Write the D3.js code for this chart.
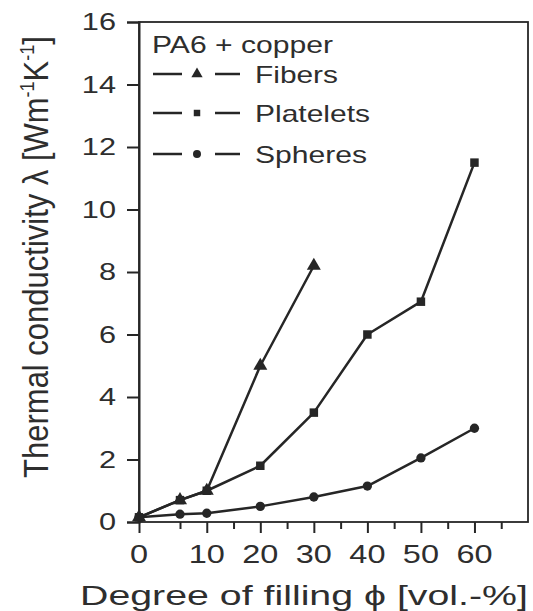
<!DOCTYPE html>
<html>
<head>
<meta charset="utf-8">
<script src="https://cdn.jsdelivr.net/npm/d3@7"></script>
<style>
  html, body { margin: 0; padding: 0; background: #fff; }
  svg { display: block; }
  text { font-family: "Liberation Sans", Arial, "DejaVu Sans", sans-serif; fill: #2e2e2e; }
</style>
</head>
<body>
<svg id="chart" width="533" height="611"></svg>
<script>
// ---- data ----
const fiberFilling    = [0, 5, 10, 20, 30];
const fiberValues     = [0.15, 0.7, 1.0, 5.0, 8.2];
const plateletFilling = [0, 5, 10, 20, 30, 40, 50, 60];
const plateletValues  = [0.15, 0.7, 1.0, 1.8, 3.5, 6.0, 7.05, 11.5];
const sphereFilling   = [0, 5, 10, 20, 30, 40, 50, 60];
const sphereValues    = [0.15, 0.25, 0.28, 0.5, 0.8, 1.15, 2.05, 3.0];
const seriesNames     = ["Fibers", "Platelets", "Spheres"];
const legendTitle     = "PA6 + copper";
const yTickValues     = [0, 2, 4, 6, 8, 10, 12, 14, 16];
const xTickValues     = [0, 10, 20, 30, 40, 50, 60];
const xMinorValues    = [5, 15, 25, 35, 45, 55, 65];

// ---- layout ----
const mL = 139, mR = 528, mT = 22, mB = 522;
const ink = "#262626";
const svg = d3.select("#chart");

const x = d3.scaleLinear().domain([0, 5, 70]).range([mL, 180, mR]);
const y = d3.scaleLinear().domain([0, 16]).range([mB, mT]);

// frame
svg.append("rect")
  .attr("x", mL).attr("y", mT)
  .attr("width", mR - mL).attr("height", mB - mT)
  .attr("fill", "none").attr("stroke", ink).attr("stroke-width", 1.8);

// y axis
const yAxis = svg.append("g").attr("transform", `translate(${mL},0)`)
  .call(d3.axisLeft(y).tickValues(yTickValues).tickSize(12).tickFormat(""));
yAxis.select(".domain").attr("stroke", ink).attr("stroke-width", 2);
yAxis.selectAll(".tick line").attr("stroke", ink).attr("stroke-width", 2);
svg.append("g").selectAll("text").data(yTickValues).join("text")
  .attr("transform", d => `translate(116,${y(d)}) scale(1.28,1)`)
  .attr("text-anchor", "end").attr("dominant-baseline", "central")
  .attr("font-size", 24).text(d => d);

// x axis
const xAxis = svg.append("g").attr("transform", `translate(0,${mB})`)
  .call(d3.axisBottom(x).tickValues(xTickValues).tickSize(11).tickFormat(""));
xAxis.select(".domain").remove();
xAxis.selectAll(".tick line").attr("stroke", ink).attr("stroke-width", 2);
const xMinor = svg.append("g").attr("transform", `translate(0,${mB})`)
  .call(d3.axisBottom(x).tickValues(xMinorValues).tickSize(7).tickFormat(""));
xMinor.select(".domain").remove();
xMinor.selectAll(".tick line").attr("stroke", ink).attr("stroke-width", 2);
svg.append("g").selectAll("text").data(xTickValues).join("text")
  .attr("transform", d => `translate(${x(d)},563) scale(1.3,1)`)
  .attr("text-anchor", "middle")
  .attr("font-size", 25).text(d => d);

// axis titles
svg.append("text")
  .attr("x", 80).attr("y", 605)
  .attr("font-size", 28)
  .attr("textLength", 448).attr("lengthAdjust", "spacingAndGlyphs")
  .text("Degree of filling \u03D5 [vol.-%]");

const yl = svg.append("text")
  .attr("transform", "translate(48,257) scale(1.15,1) rotate(-90)")
  .attr("text-anchor", "middle")
  .attr("font-size", 31);
yl.append("tspan").text("Thermal conductivity \u03BB [Wm");
yl.append("tspan").attr("font-size", 18).attr("dy", -12).text("-1");
yl.append("tspan").attr("dy", 12).text("K");
yl.append("tspan").attr("font-size", 18).attr("dy", -12).text("-1");
yl.append("tspan").attr("dy", 12).text("]");

// markers
const symbolTypes = [d3.symbolTriangle, d3.symbolSquare, d3.symbolCircle];
const plotSizes = [85, 72, 68];
const legendSizes = [55, 42, 50];

const series = [
  { name: seriesNames[1], xs: plateletFilling, ys: plateletValues, k: 1 },
  { name: seriesNames[2], xs: sphereFilling, ys: sphereValues, k: 2 },
  { name: seriesNames[0], xs: fiberFilling, ys: fiberValues, k: 0 }
];

const line = d3.line().x(d => x(d[0])).y(d => y(d[1]));
series.forEach(s => {
  const pts = s.xs.map((v, i) => [v, s.ys[i]]);
  svg.append("path").datum(pts).attr("d", line)
    .attr("fill", "none").attr("stroke", ink).attr("stroke-width", 2.5)
    .attr("stroke-linejoin", "round");
});
series.forEach(s => {
  const pts = s.xs.map((v, i) => [v, s.ys[i]]);
  svg.append("g").selectAll("path").data(pts).join("path")
    .attr("transform", d => `translate(${x(d[0])},${y(d[1])})`)
    .attr("d", d3.symbol().type(symbolTypes[s.k]).size(plotSizes[s.k]))
    .attr("fill", ink);
});

// legend
svg.append("text").attr("x", 152).attr("y", 53).attr("font-size", 24)
  .attr("textLength", 181).attr("lengthAdjust", "spacingAndGlyphs")
  .text(legendTitle);
const rowY = [74, 113, 154];
const legendTextWidths = [83, 115, 112];
seriesNames.forEach((name, k) => {
  const g = svg.append("g").attr("transform", `translate(0,${rowY[k]})`);
  g.append("line").attr("x1", 153).attr("x2", 182).attr("y1", 0).attr("y2", 0)
    .attr("stroke", ink).attr("stroke-width", 2.5);
  g.append("line").attr("x1", 215).attr("x2", 240).attr("y1", 0).attr("y2", 0)
    .attr("stroke", ink).attr("stroke-width", 2.5);
  g.append("path").attr("transform", "translate(197,0)")
    .attr("d", d3.symbol().type(symbolTypes[k]).size(legendSizes[k]))
    .attr("fill", ink);
  g.append("text").attr("x", 255).attr("y", 9).attr("font-size", 24)
    .attr("textLength", legendTextWidths[k]).attr("lengthAdjust", "spacingAndGlyphs")
    .text(name);
});
</script>
</body>
</html>
